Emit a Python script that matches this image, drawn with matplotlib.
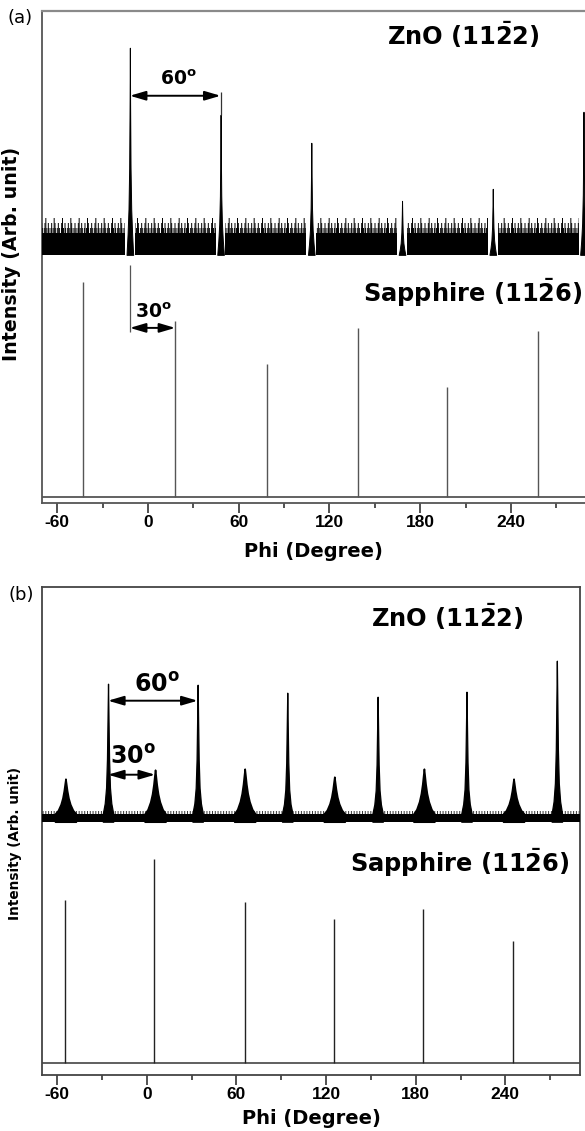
import matplotlib
matplotlib.use('Agg')
import matplotlib.pyplot as plt
from matplotlib.ticker import MultipleLocator, FixedLocator

plt.rcParams['font.family'] = ['DejaVu Sans']
plt.rcParams['mathtext.fontset'] = 'dejavusans'
plt.rcParams['hatch.linewidth'] = 0.7

# ---------------- data ----------------
phi_ticks = [-60, 0, 60, 120, 180, 240]
phi_tick_labels = ['-60', '0', '60', '120', '180', '240']

# panel (a) : ZnO (11-22) phi scan (arb. units, sapphire baseline = 0)
zno_a_pos = [-12, 48, 108, 168, 228, 288]
zno_a_top = [449, 382, 354, 296, 308, 385]
zno_a_band = [242, 264]              # solid noise band (low, high)
zno_a_spike_levels = [269, 274, 279]  # noise spike tips above band
zno_a_shape_dphi = [-2.2, -1.5, -0.9, -0.45, -0.15, 0, 0.15, 0.45, 0.9, 1.5, 2.2]
zno_a_shape_frac = [0, 0.1, 0.22, 0.42, 0.75, 1, 0.75, 0.42, 0.22, 0.1, 0]
zno_a_gap = 3.2
# panel (a) : sapphire (11-26)
sap_a_pos = [-43, 18, 79, 139, 198, 258]
sap_a_top = [215, 176, 133, 169, 110, 166]

# panel (b) : ZnO (11-22)
zno_b_big_pos = [-26, 34, 94, 154.5, 214, 274.5]
zno_b_big_top = [379, 378, 370, 366, 371, 402]
zno_b_small_pos = [-54.5, 5.5, 65.5, 125.5, 185.5, 245.5]
zno_b_small_top = [284, 293, 294, 286, 294, 284]
zno_b_band = [241, 249]
zno_b_fuzz = 252
zno_b_big_dphi = [-3.5, -2.2, -1.3, -0.7, -0.3, 0, 0.3, 0.7, 1.3, 2.2, 3.5]
zno_b_big_frac = [0, 0.08, 0.2, 0.42, 0.75, 1, 0.75, 0.42, 0.2, 0.08, 0]
zno_b_small_dphi = [-7, -5, -3.2, -2.0, -1.1, -0.4, 0, 0.4, 1.1, 2.0, 3.2, 5, 7]
zno_b_small_frac = [0, 0.1, 0.27, 0.45, 0.66, 0.88, 1, 0.88, 0.66, 0.45, 0.27, 0.1, 0]
# panel (b) : sapphire
sap_b_pos = [-54.5, 5, 65.5, 125, 185, 245]
sap_b_top = [163, 204, 161, 144, 154, 122]

xlim_a = (-70.1, 289.0)
ylim_a = (-6, 486)
xlim_b = (-70.2, 290.0)
ylim_b = (-11.8, 476)

# ---------------- figure ----------------
W, H = 585, 1131
fig = plt.figure(figsize=(W / 100, H / 100), dpi=100)
ax_a = fig.add_axes([42 / W, 1 - 503 / H, (585 - 42) / W, (503 - 10.7) / H])
ax_b = fig.add_axes([42 / W, 1 - 1074.5 / H, (580 - 42) / W, (1074.5 - 586.7) / H])

tick_font = dict(family='Liberation Sans', weight='bold', size=12.5)


def style_axes(ax, xlim, ylim, spine_col):
    ax.set_xlim(*xlim)
    ax.set_ylim(*ylim)
    ax.set_yticks([])
    ax.xaxis.set_major_locator(FixedLocator(phi_ticks))
    ax.set_xticklabels(phi_tick_labels, fontdict=tick_font)
    ax.xaxis.set_minor_locator(MultipleLocator(30))
    ax.tick_params(axis='x', which='major', direction='out', length=7, width=1.2,
                   color='#333333', pad=2)
    ax.tick_params(axis='x', which='minor', direction='out', length=3.5, width=1.2,
                   color='#333333')
    for s in ax.spines.values():
        s.set_color(spine_col)
        s.set_linewidth(1.3)


def band_segments(xlim, positions, gap):
    edges = [xlim[0]]
    for p in positions:
        edges += [p - gap, p + gap]
    edges.append(xlim[1] + 5)
    return [(edges[i], edges[i + 1]) for i in range(0, len(edges), 2)]


# ---------- panel (a) ----------
ax = ax_a
style_axes(ax, xlim_a, ylim_a, '#555555')
ax.spines['right'].set_visible(False)
ax.spines['top'].set_color('#8a8a8a')
ax.spines['top'].set_linewidth(1.6)

# sapphire trace
ax.axhline(0, color='#555555', lw=1.3, zorder=2)
ax.vlines(sap_a_pos, 0, sap_a_top, color='#555555', lw=1.0, zorder=2)

# ZnO trace: noise band + peaks
for s, e in band_segments(xlim_a, zno_a_pos, zno_a_gap):
    if e <= s:
        continue
    ax.fill_between([s, e], zno_a_band[0], zno_a_band[1], color='black', lw=0, zorder=3)
    hatches = ['||||||||', '|||||', '||']
    for lvl, h in zip(zno_a_spike_levels, hatches):
        ax.fill_between([s, e], zno_a_band[1], lvl, facecolor='none',
                        edgecolor='black', hatch=h, lw=0, zorder=3)
for p, t in zip(zno_a_pos, zno_a_top):
    xs = [p + d for d in zno_a_shape_dphi]
    ys = [zno_a_band[0] + f * (t - zno_a_band[0]) for f in zno_a_shape_frac]
    ax.fill_between(xs, zno_a_band[0], ys, facecolor='black', edgecolor='black',
                    lw=0.7, zorder=4)

# annotations (a)
ax.vlines(zno_a_pos[1], zno_a_top[1], 405, color='#333333', lw=0.9, zorder=4)
ax.vlines(zno_a_pos[0], 165, 232, color='#555555', lw=0.9, zorder=4)
arrow_kw = dict(arrowstyle='<|-|>,head_length=0.95,head_width=0.28', color='black',
                lw=1.4, shrinkA=0, shrinkB=0, mutation_scale=10)
ax.annotate('', xy=(zno_a_pos[1], 401), xytext=(zno_a_pos[0], 401), arrowprops=arrow_kw,
            zorder=5)
ax.text(20, 417, r'60$^{\mathbf{o}}$', ha='center', va='center', fontsize=13.5,
        fontweight='bold')
ax.annotate('', xy=(sap_a_pos[1], 169), xytext=(zno_a_pos[0], 169), arrowprops=arrow_kw,
            zorder=5)
ax.text(3.3, 185, r'30$^{\mathbf{o}}$', ha='center', va='center', fontsize=13.5,
        fontweight='bold')

ax.text(0.917, 0.951, r'ZnO (11$\mathbf{\bar{2}}$2)', transform=ax.transAxes, ha='right',
        va='center', fontsize=17.4, fontweight='bold')
ax.text(0.995, 0.426, r'Sapphire (11$\mathbf{\bar{2}}$6)', transform=ax.transAxes,
        ha='right', va='center', fontsize=17.4, fontweight='bold')
ax.set_xlabel('Phi (Degree)', fontsize=14, fontweight='bold', labelpad=3)
ax.set_ylabel('Intensity (Arb. unit)', fontsize=13.7, fontweight='bold')
ax.yaxis.set_label_coords(-21 / 543, (503 - 253.5) / 492.3)
ax.xaxis.set_label_coords(0.5, -(552 - 503) / 492.3)
ax.xaxis.label.set_va('center')

# ---------- panel (b) ----------
ax = ax_b
style_axes(ax, xlim_b, ylim_b, '#444444')
ax.axhline(0, color='#444444', lw=1.2, zorder=2)
ax.vlines(sap_b_pos, 0, sap_b_top, color='#222222', lw=1.0, zorder=2)

ax.fill_between(list(xlim_b), zno_b_band[0], zno_b_band[1], color='black', lw=0, zorder=3)
ax.fill_between(list(xlim_b), zno_b_band[1], zno_b_fuzz, facecolor='none',
                edgecolor='#333333', hatch='||||||', lw=0, zorder=3)
for p, t in zip(zno_b_small_pos, zno_b_small_top):
    xs = [p + d for d in zno_b_small_dphi]
    ys = [zno_b_band[1] + f * (t - zno_b_band[1]) for f in zno_b_small_frac]
    ax.fill_between(xs, zno_b_band[0], ys, facecolor='black', edgecolor='black',
                    lw=1.2, zorder=4)
for p, t in zip(zno_b_big_pos, zno_b_big_top):
    xs = [p + d for d in zno_b_big_dphi]
    ys = [zno_b_band[1] + f * (t - zno_b_band[1]) for f in zno_b_big_frac]
    ax.fill_between(xs, zno_b_band[0], ys, facecolor='black', edgecolor='black',
                    lw=0.9, zorder=4)

ax.annotate('', xy=(zno_b_big_pos[1], 362), xytext=(zno_b_big_pos[0], 362),
            arrowprops=arrow_kw, zorder=5)
ax.text(6.7, 378, r'60$^{\mathbf{o}}$', ha='center', va='center', fontsize=17,
        fontweight='bold')
ax.annotate('', xy=(zno_b_small_pos[1], 288), xytext=(zno_b_big_pos[0], 288),
            arrowprops=arrow_kw, zorder=5)
ax.text(-9.5, 306, r'30$^{\mathbf{o}}$', ha='center', va='center', fontsize=17,
        fontweight='bold')

ax.text(0.896, 0.938, r'ZnO (11$\mathbf{\bar{2}}$2)', transform=ax.transAxes, ha='right',
        va='center', fontsize=17.4, fontweight='bold')
ax.text(0.98, 0.434, r'Sapphire (11$\mathbf{\bar{2}}$6)', transform=ax.transAxes,
        ha='right', va='center', fontsize=17.4, fontweight='bold')
ax.set_xlabel('Phi (Degree)', fontsize=14, fontweight='bold')
ax.set_ylabel('Intensity (Arb. unit)', fontsize=9.8, fontweight='bold')
ax.yaxis.set_label_coords(-20 / 538, (1074.5 - 843) / 487.8)
ax.xaxis.set_label_coords(0.5, -(1118.5 - 1074.5) / 487.8)
ax.xaxis.label.set_va('center')

fig.text(20 / W, 1 - 18 / H, '(a)', ha='center', va='center', fontsize=13)
fig.text(21 / W, 1 - 595.5 / H, '(b)', ha='center', va='center', fontsize=13)

fig.savefig('out.png', dpi=100)
